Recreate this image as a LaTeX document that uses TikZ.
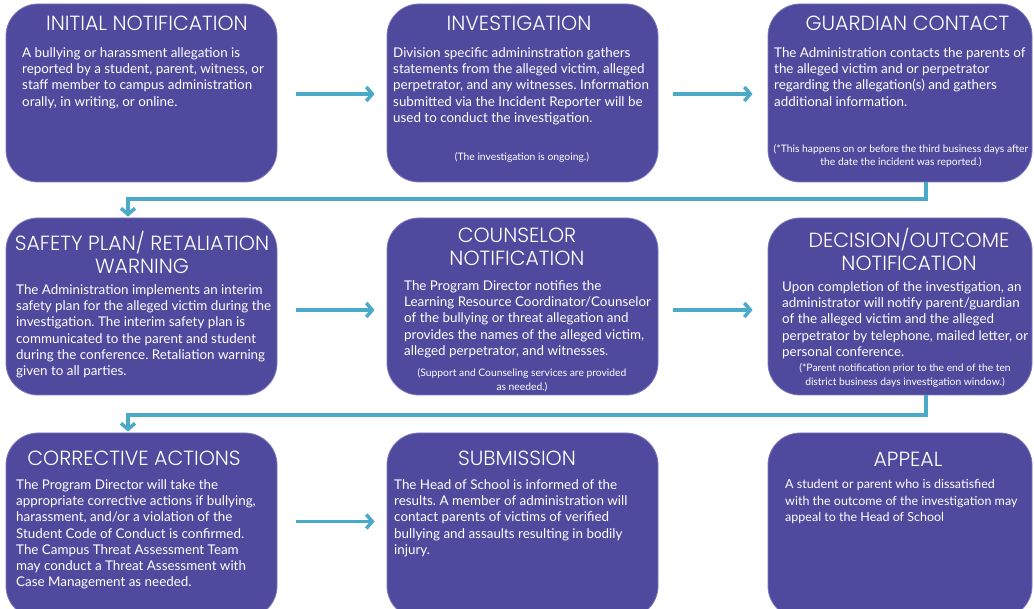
\documentclass[tikz,border=0pt]{standalone}
\usepackage{fontspec}
\setmainfont{Lato}
\newfontfamily\titlefont{Poppins Light}
\usetikzlibrary{arrows.meta}
\definecolor{boxpurple}{HTML}{504A9E}
\definecolor{boxedge}{HTML}{7C77BC}
\definecolor{arrowteal}{HTML}{4AAAC7}
\frenchspacing
\begin{document}
\begin{tikzpicture}[x=1pt,y=-1pt,
 box/.style={draw=boxedge, line width=0.8pt, fill=boxpurple, rounded corners=32pt, inner sep=0pt, minimum width=271pt},
 ttl/.style={text=white, font=\titlefont\fontsize{20.5}{23}\selectfont, align=center, inner sep=0pt},
 body/.style={text=white, font=\fontsize{13.4}{16.2}\selectfont, align=left, anchor=north west, inner sep=0pt},
 note/.style={text=white, font=\fontsize{10.3}{13.5}\selectfont, align=center, inner sep=0pt},
 arr/.style={draw=arrowteal, line width=3.5pt, -{Straight Barb[length=6pt,width=14pt]}}]
\useasboundingbox (0,0) rectangle (1034,609);
\clip (0,0) rectangle (1034,609);
% boxes
\node[box, minimum height=178pt] (b1) at (141.5,93) {};
\node[box, minimum height=178pt] (b2) at (522.5,93) {};
\node[box, minimum height=178pt, minimum width=264pt] (b3) at (900,93) {};
\node[box, minimum height=177pt] (b4) at (141.5,306.5) {};
\node[box, minimum height=177pt] (b5) at (522.5,306.5) {};
\node[box, minimum height=177pt, minimum width=264pt] (b6) at (900,306.5) {};
\node[box, minimum height=185pt] (b7) at (141.5,525.5) {};
\node[box, minimum height=185pt] (b8) at (522.5,525.5) {};
\node[box, minimum height=185pt, minimum width=264pt] (b9) at (900,525.5) {};
% titles
\node[ttl] (t1) at (147,23) {INITIAL NOTIFICATION};
\node[ttl] (t2) at (519,23) {INVESTIGATION};
\node[ttl] (t3) at (907.5,23) {GUARDIAN CONTACT};
\node[ttl] (t4) at (142,252) {SAFETY PLAN/ RETALIATION\\WARNING};
\node[ttl] (t5) at (517,246.5) {COUNSELOR\\NOTIFICATION};
\node[ttl] (t6) at (909,249.5) {DECISION/OUTCOME\\NOTIFICATION};
\node[ttl] (t7) at (134,458) {CORRECTIVE ACTIONS};
\node[ttl] (t8) at (517,458) {SUBMISSION};
\node[ttl] (t9) at (908,459) {APPEAL};
% bodies
\node[body] (d1) at (22,47.5) {A bullying or harassment allegation is\\reported by a student, parent, witness, or\\staff member to campus administration\\orally, in writing, or online.};
\node[body] (d2) at (393,47.5) {Division specific admininstration gathers\\statements from the alleged victim, alleged\\perpetrator, and any witnesses. Information\\submitted via the Incident Reporter will be\\used to conduct the investigation.};
\node[body] (d3) at (774,47.5) {The Administration contacts the parents of\\the alleged victim and or perpetrator\\regarding the allegation(s) and gathers\\additional information.};
\node[body] (d4) at (16,284.5) {The Administration implements an interim\\safety plan for the alleged victim during the\\investigation. The interim safety plan is\\communicated to the parent and student\\during the conference. Retaliation warning\\given to all parties.};
\node[body] (d5) at (404,280.5) {The Program Director notifies the\\Learning Resource Coordinator/Counselor\\of the bullying or threat allegation and\\provides the names of the alleged victim,\\alleged perpetrator, and witnesses.};
\node[body] (d6) at (782,281.5) {Upon completion of the investigation, an\\administrator will notify parent/guardian\\of the alleged victim and the alleged\\perpetrator by telephone, mailed letter, or\\personal conference.};
\node[body] (d7) at (16,479.5) {The Program Director will take the\\appropriate corrective actions if bullying,\\harassment, and/or a violation of the\\Student Code of Conduct is confirmed.\\The Campus Threat Assessment Team\\may conduct a Threat Assessment with\\Case Management as needed.};
\node[body] (d8) at (394,479.5) {The Head of School is informed of the\\results. A member of administration will\\contact parents of victims of verified\\bullying and assaults resulting in bodily\\injury.};
\node[body, font=\fontsize{12.5}{16.2}\selectfont] (d9) at (785,479.5) {A student or parent who is dissatisfied\\with the outcome of the investigation may\\appeal to the Head of School};
% notes
\node[note] (n2) at (522,157) {(The investigation is ongoing.)};
\node[note] (n3) at (901,156) {(*This happens on or before the third business days after\\the date the incident was reported.)};
\node[note] (n5) at (522,380.5) {(Support and Counseling services are provided\\as needed.)};
\node[note] (n6) at (905,375.5) {(*Parent notification prior to the end of the ten\\district business days investigation window.)};
% horizontal arrows
\draw[arr] ([xshift=19pt,yshift=-1pt]b1.east) -- ([xshift=-12pt,yshift=-1pt]b2.west);
\draw[arr] ([xshift=15pt,yshift=-1pt]b2.east) -- ([xshift=-15pt,yshift=-1pt]b3.west);
\draw[arr] ([xshift=19pt,yshift=-3.5pt]b4.east) -- ([xshift=-12pt,yshift=-3.5pt]b5.west);
\draw[arr] ([xshift=15pt,yshift=-3.5pt]b5.east) -- ([xshift=-15pt,yshift=-3.5pt]b6.west);
\draw[arr] ([xshift=19pt,yshift=4pt]b7.east) -- ([xshift=-12pt,yshift=4pt]b8.west);
% elbow connectors
\coordinate (s3) at ([xshift=26pt]b3.south);
\coordinate (h1) at (0,199);
\coordinate (n4) at ([xshift=-13.5pt,yshift=1pt]b4.north);
\draw[arr] (s3) -- (s3 |- h1) -| (n4);
\coordinate (s6) at ([xshift=26pt]b6.south);
\coordinate (h2) at (0,415);
\coordinate (n7) at ([xshift=-13.5pt,yshift=1pt]b7.north);
\draw[arr] (s6) -- (s6 |- h2) -| (n7);
\end{tikzpicture}
\end{document}
